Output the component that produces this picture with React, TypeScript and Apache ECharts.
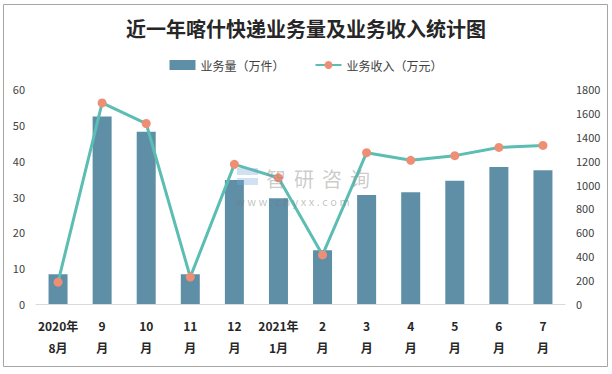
import React, { useEffect, useRef } from "react";
import * as echarts from "echarts";

const categories = ["2020年\n8月", "9\n月", "10\n月", "11\n月", "12\n月", "2021年\n1月", "2\n月", "3\n月", "4\n月", "5\n月", "6\n月", "7\n月"];
const volume = [8.3, 52.3, 48.1, 8.3, 34.6, 29.5, 15.0, 30.4, 31.2, 34.4, 38.2, 37.3];
const revenue = [183, 1683, 1511, 225, 1169, 1056, 411, 1267, 1203, 1242, 1311, 1328];
const titleText = "近一年喀什快递业务量及业务收入统计图";
const seriesNames = ["业务量（万件）", "业务收入（万元）"];
const watermarkChars = ["智", "研", "咨", "询"];
const watermarkUrl = "w w w . c h y x x . c o m";

export default function App() {
  const ref = useRef<HTMLDivElement>(null);
  useEffect(() => {
    if (!ref.current) return;
    const chart = echarts.init(ref.current, null, { renderer: "svg" });
    const font = "'Noto Sans CJK SC', 'Noto Sans', sans-serif";
    const wmTexts = watermarkChars.map((c, i) => ({
      type: "text",
      x: 266 + i * 28,
      y: 168,
      style: { text: c, fontSize: 20, fill: "rgba(140,140,140,0.45)", fontFamily: font },
      silent: true,
      z: 101,
    }));
    chart.setOption({
      animation: false,
      backgroundColor: "#ffffff",
      textStyle: { fontFamily: font },
      title: {
        text: titleText,
        left: "center",
        top: 13,
        textStyle: { fontSize: 20, fontWeight: "bold", color: "#262626", fontFamily: font },
      },
      legend: {
        top: 54,
        left: "center",
        itemGap: 30,
        itemWidth: 26,
        itemHeight: 10,
        textStyle: { fontSize: 12, color: "#404040" },
        data: [
          { name: seriesNames[0], icon: "rect" },
          { name: seriesNames[1] },
        ],
      },
      grid: { left: 36, right: 47, top: 89, bottom: 70 },
      xAxis: {
        type: "category",
        data: categories,
        axisLine: { lineStyle: { color: "#d9d9d9", width: 1 } },
        axisTick: { show: false },
        axisLabel: {
          interval: 0,
          margin: 10,
          fontSize: 12,
          fontWeight: "bold",
          color: "#262626",
          lineHeight: 22,
        },
      },
      yAxis: [
        {
          type: "value",
          min: 0,
          max: 60,
          interval: 10,
          splitLine: { show: false },
          axisLine: { show: false },
          axisTick: { show: false },
          axisLabel: { fontSize: 11, color: "#404040", margin: 11, formatter: (v: number) => String(v) },
        },
        {
          type: "value",
          min: 0,
          max: 1800,
          interval: 200,
          splitLine: { show: false },
          axisLine: { show: false },
          axisTick: { show: false },
          axisLabel: { fontSize: 11, color: "#404040", margin: 11, formatter: (v: number) => String(v) },
        },
      ],
      series: [
        {
          name: seriesNames[0],
          type: "bar",
          data: volume,
          barWidth: 19,
          itemStyle: { color: "#5E8FA6" },
          z: 2,
        },
        {
          name: seriesNames[1],
          type: "line",
          yAxisIndex: 1,
          data: revenue,
          symbol: "circle",
          symbolSize: 9,
          lineStyle: { color: "#5CBDB3", width: 3 },
          itemStyle: { color: "#EE8E74" },
          z: 3,
        },
      ],
      graphic: [
        {
          type: "rect",
          shape: { x: 3.5, y: 4.5, width: 604, height: 362 },
          style: { fill: "none", stroke: "#A6A6A6", lineWidth: 1 },
          silent: true,
          z: 100,
        },
        {
          type: "rect",
          shape: { x: 237, y: 168, width: 21, height: 7 },
          style: { fill: "rgba(120,170,215,0.35)" },
          silent: true,
          z: 101,
        },
        {
          type: "rect",
          shape: { x: 237, y: 178, width: 21, height: 7 },
          style: { fill: "rgba(120,170,215,0.35)" },
          silent: true,
          z: 101,
        },
        ...wmTexts,
        {
          type: "text",
          x: 236,
          y: 195,
          style: { text: watermarkUrl, fontSize: 11, fill: "rgba(120,120,120,0.45)", fontFamily: font },
          silent: true,
          z: 101,
        },
      ],
    });
    return () => chart.dispose();
  }, []);
  return (
    <div
      ref={ref}
      style={{ position: "fixed", left: 0, top: 0, width: 612, height: 374 }}
    />
  );
}
